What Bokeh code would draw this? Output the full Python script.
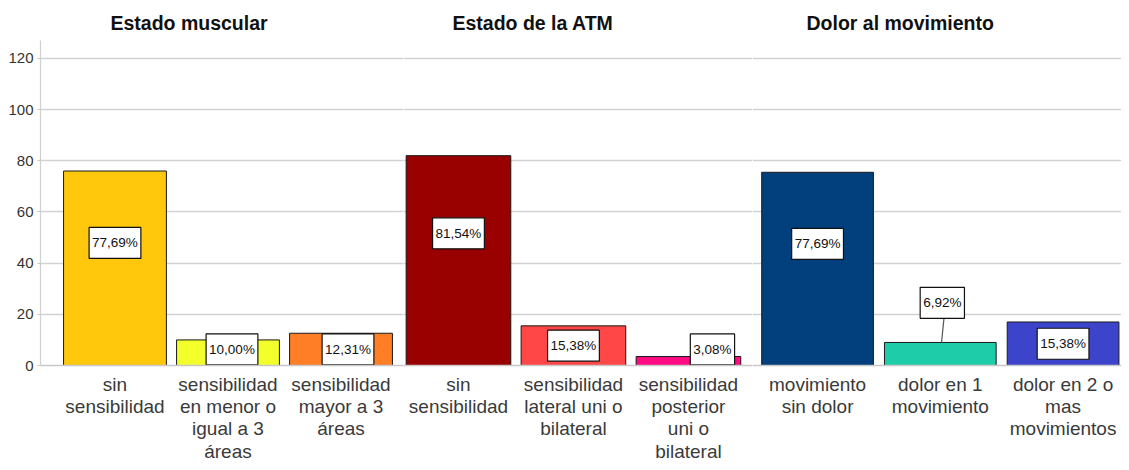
from bokeh.plotting import figure
from bokeh.layouts import row
from bokeh.models import Range1d, FixedTicker, ColumnDataSource
from bokeh.core.properties import value
from bokeh.embed import file_html
from bokeh.resources import INLINE

# ---------------- data ----------------
titles = ["Estado muscular", "Estado de la ATM", "Dolor al movimiento"]

muscular_cats = ["sin\nsensibilidad", "sensibilidad\nen menor o\nigual a 3\náreas",
                 "sensibilidad\nmayor a 3\náreas"]
muscular_vals = [76, 10, 12.6]
muscular_labels = ["77,69%", "10,00%", "12,31%"]

atm_cats = ["sin\nsensibilidad", "sensibilidad\nlateral uni o\nbilateral",
            "sensibilidad\nposterior\nuni o\nbilateral"]
atm_vals = [82, 15.5, 3.5]
atm_labels = ["81,54%", "15,38%", "3,08%"]

dolor_cats = ["movimiento\nsin dolor", "dolor en 1\nmovimiento",
              "dolor en 2 o\nmas\nmovimientos"]
dolor_vals = [75.5, 9, 17]
dolor_labels = ["77,69%", "6,92%", "15,38%"]

y_ticks = [0, 20, 40, 60, 80, 100, 120]

# ---------------- styling / layout ----------------
colors = [["#FFC80C", "#F2FF2A", "#FF7E26"],
          ["#990000", "#FF4747", "#FF0A82"],
          ["#023F7D", "#1FCCAA", "#3D44CC"]]
FONT = "Liberation Sans"
Y_END = 127.0
FIG_H = 464
TOP = 40
BOTTOM = 96


def label_positions(vals):
    ys = []
    for v in vals:
        if v > 50:
            ys.append(v * 0.63)
        else:
            ys.append(max(v / 2.0, 6.3))
    return ys


def make_panel(title, cats, vals, labels, cols, width, border_left, xr, show_y,
               title_offset, label_dx, callout=None):
    p = figure(width=width, height=FIG_H, output_backend="svg", toolbar_location=None,
               x_range=Range1d(*xr), y_range=Range1d(0, Y_END),
               min_border_left=border_left, min_border_right=0,
               min_border_top=TOP, min_border_bottom=BOTTOM)
    p.outline_line_color = None
    p.background_fill_color = "white"
    p.border_fill_color = "white"

    xs = list(range(1, len(cats) + 1))
    src = ColumnDataSource(dict(x=xs, top=vals, color=cols))
    p.vbar(x="x", top="top", width=0.91, bottom=0, source=src,
           fill_color="color", line_color="#1a1a1a", line_width=1)

    ly = label_positions(vals)
    if callout is not None:
        idx, yy = callout
        ly[idx] = yy
        p.segment(x0=[xs[idx] + 0.01], y0=[vals[idx]], x1=[xs[idx] + 0.03], y1=[yy - 6.0],
                  line_color="#555555", line_width=1.2)
    lsrc = ColumnDataSource(dict(x=xs, y=ly, text=labels, dx=label_dx))
    p.text(x="x", y="y", text="text", x_offset="dx", source=lsrc,
           text_font=value(FONT), text_font_size="13.5px", text_color="#111111",
           text_align="center", text_baseline="middle",
           background_fill_color="white", border_line_color="#111111",
           border_line_width=1.2,
           padding=dict(left=3, right=3, top=8, bottom=8))

    p.xaxis.ticker = FixedTicker(ticks=xs)
    p.xaxis.major_label_overrides = {x: c for x, c in zip(xs, cats)}
    p.xaxis.major_label_text_font = FONT
    p.xaxis.major_label_text_font_size = "19px"
    p.xaxis.major_label_text_color = "#3a3a3a"
    p.xaxis.major_label_text_line_height = 1.07
    p.xaxis.major_label_standoff = 2
    p.xaxis.axis_line_color = "#C8C8C8"
    p.xaxis.axis_line_width = 1.5
    p.xaxis.major_tick_line_color = None
    p.xaxis.minor_tick_line_color = None

    p.xgrid.grid_line_color = None
    p.ygrid.grid_line_color = "#D2D2D2"
    p.ygrid.grid_line_width = 1.5
    p.yaxis.ticker = FixedTicker(ticks=y_ticks)
    if show_y:
        p.yaxis.axis_line_color = "#D0D0D0"
        p.yaxis.axis_line_width = 1.2
        p.yaxis.major_tick_line_color = "#C8C8C8"
        p.yaxis.major_tick_out = 3
        p.yaxis.major_tick_in = 0
        p.yaxis.minor_tick_line_color = None
        p.yaxis.major_label_text_font = FONT
        p.yaxis.major_label_text_font_size = "15px"
        p.yaxis.major_label_text_color = "#333333"
        p.yaxis.major_label_standoff = 4
    else:
        p.yaxis.visible = False

    p.title.text = title
    p.title.align = "left"
    p.title.offset = title_offset
    p.title.standoff = 14
    p.title.text_font = FONT
    p.title.text_font_size = "19.5px"
    p.title.text_font_style = "bold"
    p.title.text_color = "#111111"
    return p


p1 = make_panel(titles[0], muscular_cats, muscular_vals, muscular_labels, colors[0],
                403, 40, (0.341, 3.553), True, 70, [0, 4, 7])
p2 = make_panel(titles[1], atm_cats, atm_vals, atm_labels, colors[1],
                349, 0, (0.522, 3.557), False, 49, [0, 0, 24])
p3 = make_panel(titles[2], dolor_cats, dolor_vals, dolor_labels, colors[2],
                369, 0, (0.47, 3.476), False, 54, [0, 2, 0], callout=(1, 24.5))

layout = row(p1, p2, p3, spacing=0)

open("out.html", "w").write(file_html(layout, INLINE))
